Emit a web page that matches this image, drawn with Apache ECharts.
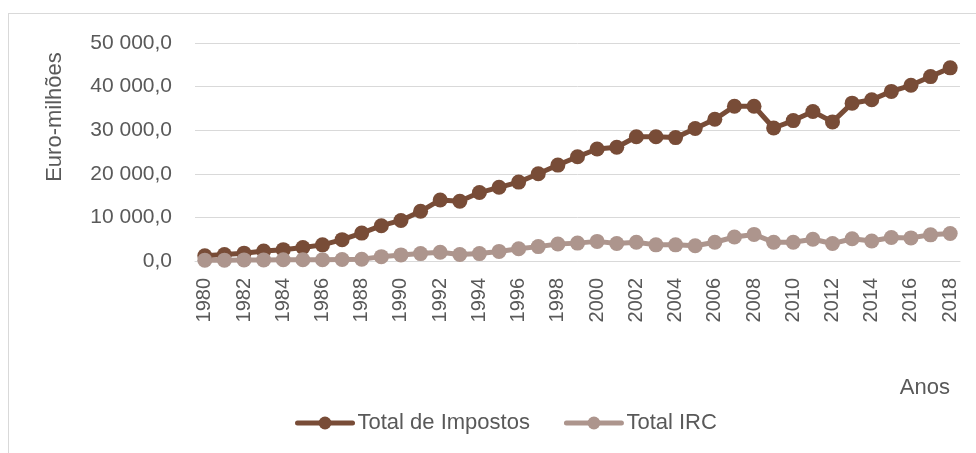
<!DOCTYPE html>
<html>
<head>
<meta charset="utf-8">
<script src="https://cdn.jsdelivr.net/npm/echarts@6/dist/echarts.min.js"></script>
<style>
  html, body { margin: 0; padding: 0; background: #fff; }
  #frame { position: absolute; left: 8px; top: 13px; width: 980px; height: 450px;
           border-left: 1px solid #d9d9d9; border-top: 1px solid #d9d9d9; }
  #chart { position: absolute; left: 0; top: 0; width: 976px; height: 453px; }
</style>
</head>
<body>
<div id="frame"></div>
<div id="chart"></div>
<script>
var anos = ['1980','1981','1982','1983','1984','1985','1986','1987','1988','1989',
            '1990','1991','1992','1993','1994','1995','1996','1997','1998','1999',
            '2000','2001','2002','2003','2004','2005','2006','2007','2008','2009',
            '2010','2011','2012','2013','2014','2015','2016','2017','2018'];
var totalImpostos = [1200, 1500, 1800, 2300, 2600, 3100, 3700, 4900, 6400, 8100,
                     9300, 11400, 14000, 13700, 15700, 16900, 18100, 20000, 22000, 23900,
                     25700, 26100, 28500, 28500, 28300, 30400, 32500, 35500, 35500, 30500,
                     32200, 34300, 31900, 36200, 37000, 38900, 40300, 42300, 44300];
var totalIRC = [200, 200, 250, 250, 300, 300, 300, 350, 400, 1000,
                1400, 1700, 2000, 1500, 1700, 2200, 2800, 3300, 3900, 4100,
                4500, 4000, 4300, 3700, 3700, 3500, 4300, 5500, 6100, 4300,
                4300, 5000, 4000, 5100, 4600, 5400, 5300, 6000, 6300];

var fonte = 'Liberation Sans';
var cinza = '#595959';

function formatar(v) {
  var s = String(Math.round(v)).replace(/\B(?=(\d{3})+(?!\d))/g, ' ');
  return s + ',0';
}

var chart = echarts.init(document.getElementById('chart'));
chart.setOption({
  animation: false,
  textStyle: { fontFamily: fonte },
  grid: { left: 195, right: 16, top: 43, bottom: 192 },
  legend: {
    left: 295,
    top: 412,
    padding: 0,
    itemWidth: 55,
    itemHeight: 16,
    itemGap: 34,
    lineStyle: { width: 5, cap: 'round' },
    textStyle: { fontFamily: fonte, fontSize: 22, color: cinza },
    data: ['Total de Impostos', 'Total IRC']
  },
  xAxis: {
    type: 'category',
    boundaryGap: true,
    data: anos,
    axisLine: { lineStyle: { color: '#d9d9d9', width: 1 } },
    axisTick: { show: false },
    axisLabel: {
      rotate: 90,
      interval: 1,
      margin: 17,
      fontFamily: fonte,
      fontSize: 20,
      color: cinza
    }
  },
  yAxis: {
    type: 'value',
    min: 0,
    max: 50000,
    interval: 10000,
    axisLine: { show: false },
    axisTick: { show: false },
    splitLine: { lineStyle: { color: '#d9d9d9', width: 1 } },
    axisLabel: {
      margin: 23,
      fontFamily: fonte,
      fontSize: 21,
      color: cinza,
      formatter: formatar
    }
  },
  graphic: [
    {
      type: 'text',
      x: 55,
      y: 117,
      rotation: Math.PI / 2,
      style: {
        text: 'Euro-milhões',
        font: '22px ' + fonte,
        fill: cinza,
        align: 'center',
        verticalAlign: 'middle'
      }
    },
    {
      type: 'text',
      x: 950,
      y: 388,
      style: {
        text: 'Anos',
        font: '22px ' + fonte,
        fill: cinza,
        align: 'right',
        verticalAlign: 'middle'
      }
    }
  ],
  series: [
    {
      name: 'Total de Impostos',
      type: 'line',
      data: totalImpostos,
      symbol: 'circle',
      symbolSize: 15,
      showAllSymbol: true,
      itemStyle: { color: '#784c37' },
      lineStyle: { color: '#784c37', width: 5, cap: 'round', join: 'round' }
    },
    {
      name: 'Total IRC',
      type: 'line',
      data: totalIRC,
      symbol: 'circle',
      symbolSize: 15,
      showAllSymbol: true,
      itemStyle: { color: '#ad958d' },
      lineStyle: { color: '#ad958d', width: 5, cap: 'round', join: 'round' }
    }
  ]
});
</script>
</body>
</html>
